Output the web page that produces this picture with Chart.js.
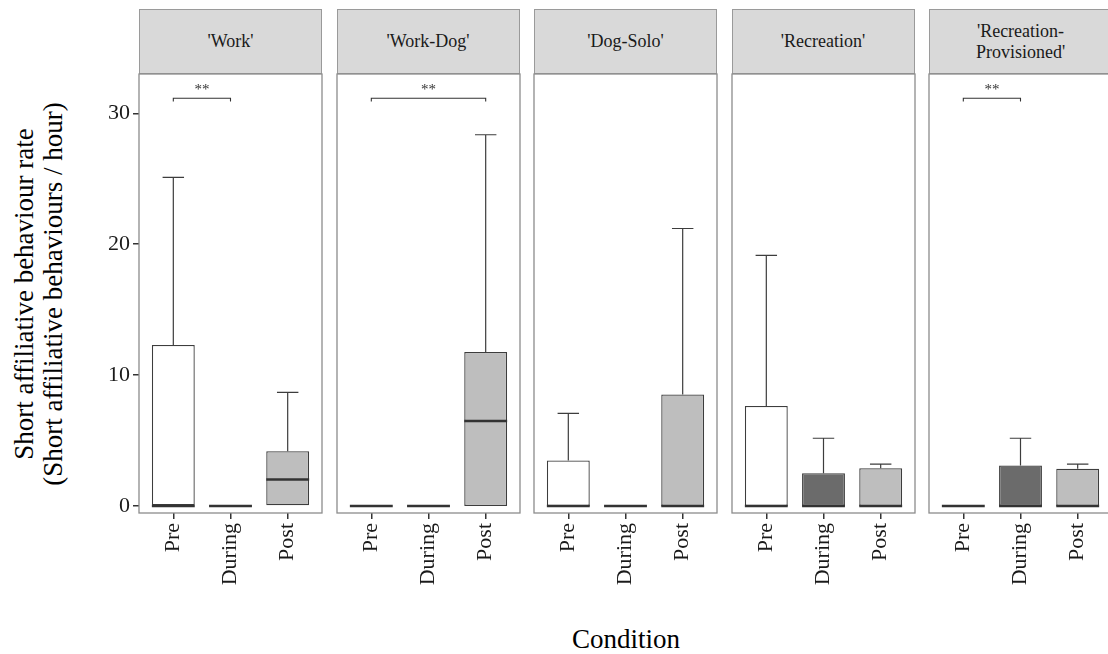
<!DOCTYPE html>
<html>
<head>
<meta charset="utf-8">
<script src="https://cdn.jsdelivr.net/npm/chart.js@4/dist/chart.umd.min.js"></script>
<style>
  body { margin: 0; width: 1108px; height: 654px; overflow: hidden; background: #fff; font-family: "Liberation Serif", "DejaVu Serif", serif; }
  .strip { position: absolute; top: 9px; height: 65px; background: #d9d9d9; border: 1px solid #9a9a9a; box-sizing: border-box;
           display: flex; align-items: center; justify-content: center; text-align: center; font-size: 18px; line-height: 21px; color: #1a1a1a; }
  canvas.panel { position: absolute; top: 70px; }
  #ytitle { position: absolute; left: -211px; top: 265px; width: 500px; height: 58px; transform: rotate(-90deg);
            text-align: center; font-size: 27px; line-height: 29px; color: #000; }
  #xtitle { position: absolute; left: 526px; top: 624px; width: 200px; text-align: center; font-size: 27px; color: #000; }
</style>
</head>
<body>
<div id="ytitle">Short affiliative behaviour rate<br>(Short affiliative behaviours / hour)</div>
<div id="xtitle">Condition</div>
<script>
// data
var conditions = ['Pre', 'During', 'Post'];
var panelNames = ["'Work'", "'Work-Dog'", "'Dog-Solo'", "'Recreation'", "'Recreation-<br>Provisioned'"];
var lowerQuartile = [[0, 0, 0], [0, 0, 0], [0, 0, 0], [0, 0, 0], [0, 0, 0]];
var medians       = [[0, 0, 2.03], [0, 0, 6.5], [0, 0, 0], [0, 0, 0], [0, 0, 0]];
var upperQuartile = [[12.3, 0, 4.19], [0, 0, 11.77], [3.48, 0, 8.52], [7.64, 2.51, 2.89], [0, 3.1, 2.85]];
var upperWhisker  = [[25.1, 0, 8.68], [0, 0, 28.36], [7.08, 0, 21.2], [19.15, 5.18, 3.2], [0, 5.18, 3.2]];
var brackets = [[1, 2], [1, 3], null, null, [1, 2]];
var bracketLabel = '**';
var yTicks = [0, 10, 20, 30];

var boxFill = ['#ffffff', '#6b6b6b', '#bebebe'];
var panelLeft = [139, 336.5, 534, 731.5, 929];
var panelWidth = 183;
var padL = 60;

// whiskers, medians, border, brackets
var boxExtras = {
  id: 'boxExtras',
  afterDatasetsDraw: function(chart, args, opts) {
    var ctx = chart.ctx, xs = chart.scales.x, ys = chart.scales.y, a = chart.chartArea;
    var p = opts.panel;
    ctx.save();
    conditions.forEach(function(c, i) {
      var x = i + 1;
      var cx = xs.getPixelForValue(x);
      if (upperWhisker[p][i] > upperQuartile[p][i]) {
        ctx.strokeStyle = '#3d3d3d';
        ctx.lineWidth = 1.2;
        ctx.beginPath();
        ctx.moveTo(cx, ys.getPixelForValue(upperQuartile[p][i]));
        ctx.lineTo(cx, ys.getPixelForValue(upperWhisker[p][i]));
        var wy = ys.getPixelForValue(upperWhisker[p][i]);
        ctx.moveTo(xs.getPixelForValue(x - 0.1875), wy);
        ctx.lineTo(xs.getPixelForValue(x + 0.1875), wy);
        ctx.stroke();
      }
      ctx.strokeStyle = '#333333';
      ctx.lineWidth = 2.4;
      ctx.beginPath();
      var my = ys.getPixelForValue(medians[p][i]);
      ctx.moveTo(xs.getPixelForValue(x - 0.375), my);
      ctx.lineTo(xs.getPixelForValue(x + 0.375), my);
      ctx.stroke();
    });
    var b = brackets[p];
    if (b) {
      var by = ys.getPixelForValue(31.15), bt = ys.getPixelForValue(30.9);
      var x0 = xs.getPixelForValue(b[0]), x1 = xs.getPixelForValue(b[1]);
      ctx.strokeStyle = '#333333';
      ctx.lineWidth = 1.1;
      ctx.beginPath();
      ctx.moveTo(x0, bt); ctx.lineTo(x0, by); ctx.lineTo(x1, by); ctx.lineTo(x1, bt);
      ctx.stroke();
      ctx.fillStyle = '#333333';
      ctx.font = '15px "Liberation Serif"';
      ctx.textAlign = 'center';
      ctx.textBaseline = 'middle';
      ctx.fillText(bracketLabel, (x0 + x1) / 2, ys.getPixelForValue(31.75));
    }
    ctx.strokeStyle = '#8c8c8c';
    ctx.lineWidth = 1.3;
    ctx.strokeRect(a.left, a.top, a.right - a.left, a.bottom - a.top);
    ctx.restore();
  }
};

panelNames.forEach(function(name, p) {
  var strip = document.createElement('div');
  strip.className = 'strip';
  strip.style.left = panelLeft[p] + 'px';
  strip.style.width = panelWidth + 'px';
  strip.innerHTML = name;
  document.body.appendChild(strip);

  var cv = document.createElement('canvas');
  cv.className = 'panel';
  cv.width = padL + panelWidth + 4;
  cv.height = 530;
  cv.style.left = (panelLeft[p] - padL) + 'px';
  document.body.appendChild(cv);

  new Chart(cv.getContext('2d'), {
    type: 'bar',
    data: {
      datasets: [{
        data: conditions.map(function(c, i) {
          return { x: i + 1, y: [lowerQuartile[p][i], upperQuartile[p][i]] };
        }),
        backgroundColor: boxFill,
        borderColor: '#3d3d3d',
        borderWidth: 1.3,
        borderSkipped: false,
        barPercentage: 0.75,
        categoryPercentage: 1
      }]
    },
    options: {
      responsive: false,
      animation: false,
      devicePixelRatio: 1,
      layout: { padding: { left: 0, right: 4, top: 4, bottom: 0 } },
      plugins: { legend: { display: false }, tooltip: { enabled: false }, boxExtras: { panel: p } },
      scales: {
        x: {
          type: 'linear',
          min: 0.4,
          max: 3.6,
          offset: false,
          afterBuildTicks: function(s) { s.ticks = conditions.map(function(c, i) { return { value: i + 1 }; }); },
          afterFit: function(s) { s.height = 87; s.paddingLeft = 0; s.paddingRight = 0; },
          ticks: {
            autoSkip: false, minRotation: 90, maxRotation: 90, padding: 4,
            color: '#1a1a1a', font: { family: 'Liberation Serif', size: 22 },
            callback: function(v) { return conditions[v - 1]; }
          },
          grid: { offset: false, drawOnChartArea: false, tickLength: 6, color: '#333333', lineWidth: 1.5 },
          border: { display: false }
        },
        y: {
          display: p === 0,
          min: -0.53,
          max: 33,
          afterBuildTicks: function(s) { s.ticks = yTicks.map(function(v) { return { value: v }; }); },
          afterFit: function(s) { s.width = padL; s.paddingTop = 0; s.paddingBottom = 0; },
          ticks: { color: '#1a1a1a', padding: 3, font: { family: 'Liberation Serif', size: 22 } },
          grid: { drawOnChartArea: false, tickLength: 6, color: '#333333', lineWidth: 1.5 },
          border: { display: false }
        }
      }
    },
    plugins: [boxExtras]
  });
});
</script>
</body>
</html>
